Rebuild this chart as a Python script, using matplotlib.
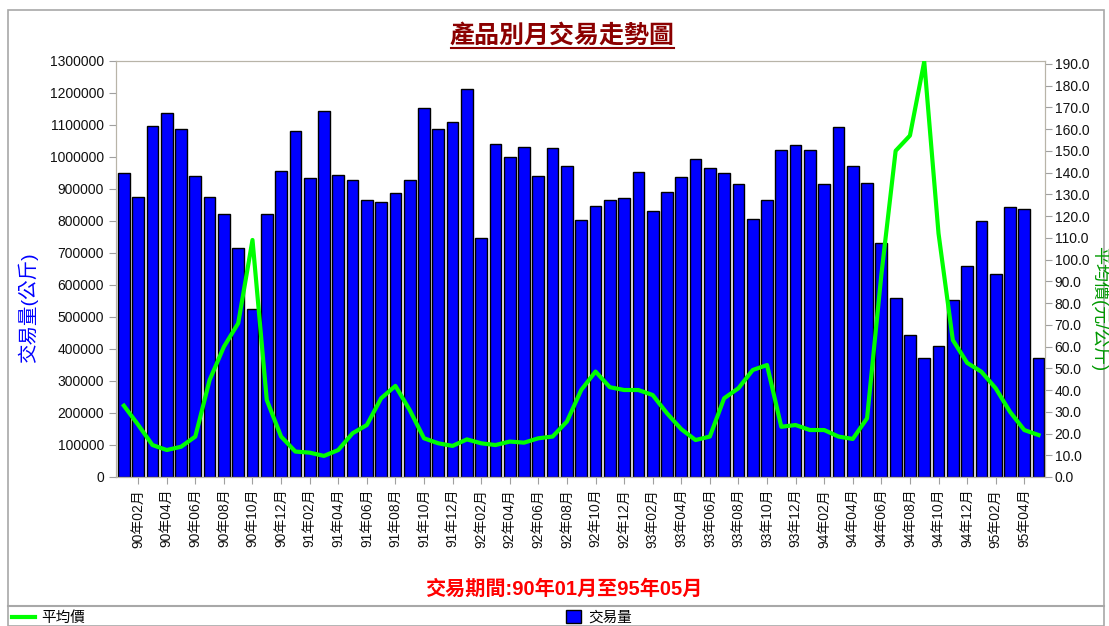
import matplotlib
matplotlib.use('Agg')
import matplotlib.pyplot as plt
from matplotlib.lines import Line2D
from matplotlib.patches import Rectangle
import numpy as np

plt.rcParams['font.family'] = ['Liberation Sans', 'Noto Sans CJK TC', 'DejaVu Sans']

# months 90年01月 .. 95年05月
months = [f"{y}年{m:02d}月" for y in range(90, 96) for m in range(1, 13)][:65]

# 交易量 (公斤)
volume = [951000, 876000, 1097000, 1138000, 1089000, 940000, 876000, 823000, 715000, 526000,
          823000, 956000, 1082000, 933000, 1145000, 945000, 928000, 867000, 859000, 888000,
          928000, 1154000, 1089000, 1109000, 1213000, 747000, 1040000, 1001000, 1032000, 940000,
          1028000, 972000, 803000, 848000, 867000, 872000, 952000, 831000, 892000, 937000,
          993000, 965000, 951000, 916000, 806000, 867000, 1021000, 1037000, 1021000, 916000,
          1093000, 972000, 920000, 731000, 560000, 445000, 372000, 408000, 554000, 658000,
          799000, 634000, 845000, 838000, 372000]

# 平均價 (元/公斤)
price = [32.8, 24.0, 14.7, 12.4, 13.9, 18.6, 44.6, 59.9, 70.7, 109.0,
         35.4, 18.6, 11.7, 11.2, 9.7, 12.4, 20.1, 23.9, 36.2, 41.9,
         30.8, 17.8, 15.5, 14.3, 17.3, 15.5, 14.7, 16.3, 15.8, 17.8,
         18.6, 25.5, 40.0, 48.5, 41.3, 40.0, 40.0, 37.7, 29.3, 22.0,
         17.0, 18.6, 36.2, 40.8, 49.2, 51.5, 23.1, 23.9, 21.6, 21.6,
         18.6, 17.5, 27.0, 93.0, 150.0, 157.0, 191.0, 112.0, 63.0, 52.5,
         48.4, 40.8, 30.0, 21.6, 19.3]

W, H = 1109, 626
fig = plt.figure(figsize=(W / 100, H / 100), dpi=100)
fig.patch.set_facecolor('white')

# plot area in pixels: x 116..1045, y 61..477
ax = fig.add_axes([116 / W, 1 - 477 / H, (1045 - 116) / W, (477 - 61) / H])
x = np.arange(len(months))
bars = ax.bar(x, volume, width=0.82, color='#0000ff', edgecolor='black', linewidth=1, zorder=2)
ax.set_xlim(-0.55, len(months) - 0.55)
ax.set_ylim(0, 1300000)
ax.set_yticks(np.arange(0, 1300001, 100000))
ax.set_yticklabels([f"{v}" for v in range(0, 1300001, 100000)])

ax.set_xticks(x[1::2])
ax.set_xticklabels(months[1::2], rotation=90, fontsize=10)

ax2 = ax.twinx()
line, = ax2.plot(x, price, color='#00ff00', linewidth=3, zorder=3, solid_joinstyle='round')
ax2.set_ylim(0, 191.3)
ax2.set_yticks(np.arange(0, 191, 10))
ax2.set_yticklabels([f"{v:.1f}" for v in np.arange(0, 191, 10)])

for a in (ax, ax2):
    for s in a.spines.values():
        s.set_color('#b8b4a8')
    a.tick_params(colors='#a0a0a0', labelcolor='#111111', length=5, labelsize=10)
ax2.tick_params(pad=2)

# titles and axis labels
fig.text(562 / W, 1 - 36 / H, '產品別月交易走勢圖', ha='center', va='center',
         fontsize=18, fontweight='bold', color='#8b0000')
fig.add_artist(Line2D([451 / W, 674 / W], [1 - 48 / H, 1 - 48 / H], color='#8b0000',
                      linewidth=1.5, transform=fig.transFigure))
fig.text(28 / W, 1 - 308 / H, '交易量(公斤)', rotation=90, ha='center', va='center',
         fontsize=14, color='#0000ff')
fig.text(1100 / W, 1 - 309 / H, '平均價(元/公斤)', rotation=270, ha='center', va='center',
         fontsize=13, color='#009900')
fig.text(564 / W, 1 - 589 / H, '交易期間:90年01月至95年05月', ha='center', va='center',
         fontsize=14.5, fontweight='bold', color='#ff0000')

# outer frame and legend separator
fig.add_artist(Rectangle((8 / W, 0), (1104 - 8) / W, 1 - 10 / H, fill=False,
                         edgecolor='#a8a8a8', linewidth=1.2, transform=fig.transFigure))
fig.add_artist(Line2D([8 / W, 1104 / W], [1 - 606 / H, 1 - 606 / H], color='#a8a8a8',
                      linewidth=1.5, transform=fig.transFigure))

leg1 = fig.legend([line], ['平均價'], loc='center left', bbox_to_anchor=(12 / W, 1 - 618 / H),
                  frameon=False, fontsize=10.5, handlelength=1.6, handletextpad=0.4,
                  borderaxespad=0, borderpad=0)
leg2 = fig.legend([bars], ['交易量'], loc='center left', bbox_to_anchor=(566 / W, 1 - 617 / H),
                  frameon=False, fontsize=10.5, handlelength=1.0, handleheight=1.0,
                  handletextpad=0.5, borderaxespad=0, borderpad=0)

fig.savefig('out.png', dpi=100)
